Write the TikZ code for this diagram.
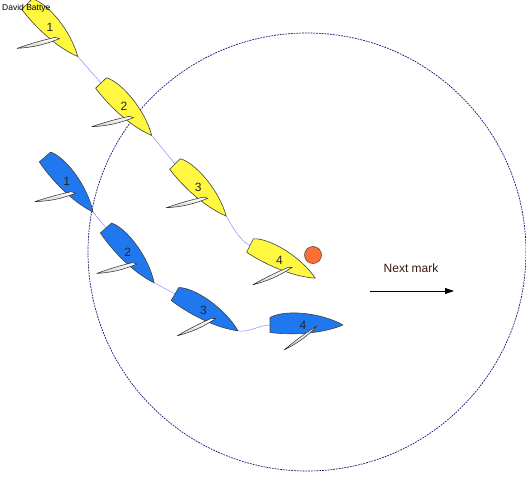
\documentclass[tikz,border=0pt]{standalone}
\usepackage{fontspec}
\setmainfont{Liberation Sans}
\usetikzlibrary{arrows.meta}

\definecolor{hullyellow}{RGB}{255,247,64}
\definecolor{hullblue}{RGB}{32,120,238}
\definecolor{trackblue}{RGB}{125,125,255}
\definecolor{zonenavy}{RGB}{20,20,125}
\definecolor{markorange}{RGB}{255,110,50}
\definecolor{labelbrown}{RGB}{60,20,20}

\pgfdeclarelayer{under}
\pgfsetlayers{under,main}

\tikzset{
  hull/.style={draw=black!75, line width=0.6pt, line join=round},
  sailcloth/.style={draw=black!85, line width=0.5pt, line join=round, top color=white, bottom color=gray!35},
  boatnum/.style={font=\fontsize{12}{13}\selectfont, text=black!85, inner sep=0pt},
  track/.style={draw=trackblue, line width=0.55pt, dash pattern=on 1.2pt off 0.5pt},
  zone/.style={draw=zonenavy, line width=0.7pt, dash pattern=on 1.8pt off 1pt},
  markbuoy/.style={circle, draw=black!70, fill=markorange, line width=0.6pt, minimum size=17pt, inner sep=0pt},
}

% boat: name, stern x, stern y, heading (clockwise, degrees), colour, number, clew x, clew y (local)
\newcommand{\drawboat}[8]{%
  \begin{scope}[shift={(#2,#3)}, rotate=-#4]
    \path[hull, fill=#5] (0,-7.5) .. controls (14,-15.5) and (50,-13) .. (73,0)
      .. controls (50,9.5) and (20,10) .. (0,7.5) -- cycle;
    \coordinate (#1stern) at (0,0);
    \coordinate (#1bow) at (73,0);
    \path[sailcloth] (47.5,0.6) to[bend left=9] (#7,#8) to[bend left=3] (43.5,3) -- cycle;
    \node[boatnum] (#1num) at (33,0) {#6};
  \end{scope}}

\begin{document}
\begin{tikzpicture}[x=1pt, y=-1pt]
  \useasboundingbox (0,0) rectangle (526,478);

  % three-length zone round the mark
  \begin{pgfonlayer}{under}
    \node[zone, circle, minimum size=438pt, inner sep=0pt] (zone) at (307,252) {};
  \end{pgfonlayer}

  % yellow boat
  \drawboat{ya}{27}{4}{46}{hullyellow}{1}{25}{38}
  \drawboat{yb}{101}{83}{46}{hullyellow}{2}{25}{37}
  \drawboat{yc}{175}{164}{45.5}{hullyellow}{3}{25}{37}
  \drawboat{yd}{250}{245.5}{26.6}{hullyellow}{4}{20}{34}

  % blue boat
  \drawboat{ba}{45}{157}{48.9}{hullblue}{1}{27}{37}
  \drawboat{bb}{106}{228}{48.7}{hullblue}{2}{28}{37}
  \drawboat{bc}{175}{294}{30.3}{hullblue}{3}{23}{35}
  \drawboat{bd}{270}{325}{0}{hullblue}{4}{14}{25}

  % tracks between successive positions
  \begin{pgfonlayer}{under}
    \draw[track] (yabow) -- (ybstern);
    \draw[track] (ybbow) -- (ycstern);
    \draw[track] (ycbow) .. controls +(7,12) and +(-10,-5) .. (ydstern);
    \draw[track] (babow) -- (bbstern);
    \draw[track] (bbbow) -- (bcstern);
    \draw[track] (bcbow) .. controls +(10,2) and +(-10,0) .. (bdstern);
  \end{pgfonlayer}

  % the mark
  \node[markbuoy] (mark) at (313,255) {};

  % direction to the next mark
  \node[font=\fontsize{12}{14}\selectfont, text=labelbrown] (nextlabel) at (411,268) {Next mark};
  \coordinate (arrowtail) at (370,291);
  \coordinate (arrowtip) at (454,291);
  \draw[line width=0.8pt, -{Triangle[length=9pt,width=6pt]}] (arrowtail) -- (arrowtip);

  \node[anchor=base west, font=\fontsize{8.5}{10}\selectfont, inner sep=0pt] (author) at (2,11) {David Battye};
\end{tikzpicture}
\end{document}
